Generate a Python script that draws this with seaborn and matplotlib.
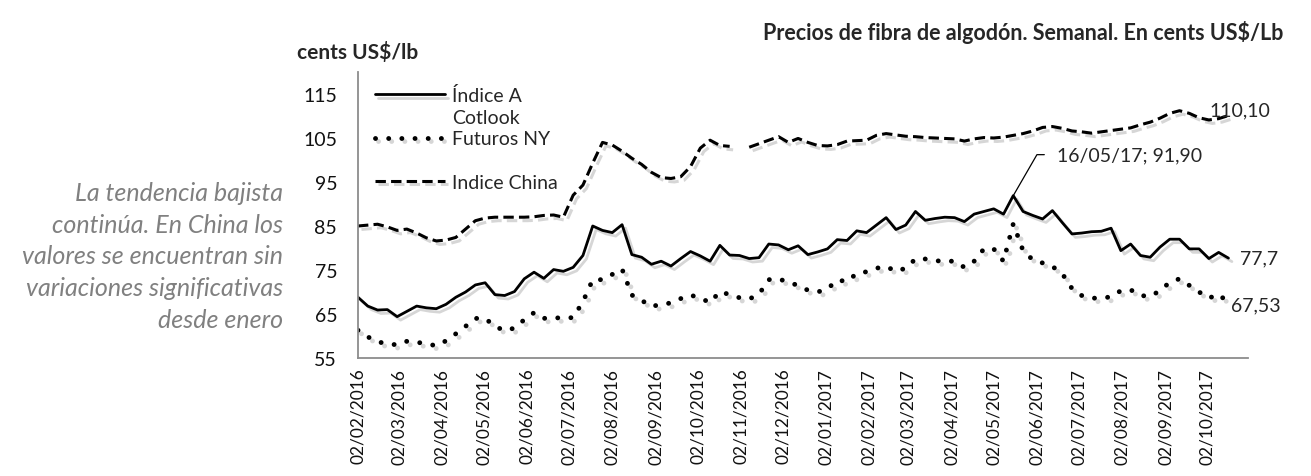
import matplotlib
matplotlib.use("Agg")
import matplotlib.pyplot as plt
import matplotlib.dates as mdates
import matplotlib.patheffects as pe
from matplotlib.lines import Line2D
import numpy as np
import pandas as pd
import seaborn as sns

# Datos semanales (martes) desde 02/02/2016
fechas = pd.date_range("2016-02-02", periods=90, freq="7D")

indice_a = [68.8, 66.8, 65.9, 66.0, 64.4, 65.6, 66.8, 66.4, 66.2, 67.2,
            68.8, 70.0, 71.6, 72.1, 69.4, 69.2, 70.1, 73.0, 74.5, 73.1,
            75.1, 74.7, 75.6, 78.3, 85.0, 84.0, 83.5, 85.3, 78.5, 77.9,
            76.3, 77.0, 75.9, 77.6, 79.2, 78.2, 77.0, 80.6, 78.4, 78.3,
            77.6, 77.8, 80.9, 80.7, 79.6, 80.5, 78.5, 79.1, 79.8, 81.9,
            81.7, 83.9, 83.5, 85.2, 86.9, 84.2, 85.2, 88.3, 86.3, 86.7,
            87.0, 86.9, 86.0, 87.7, 88.3, 88.9, 87.7, 91.9, 88.3, 87.4,
            86.6, 88.5, 85.8, 83.2, 83.4, 83.7, 83.8, 84.5, 79.4, 80.9,
            78.3, 77.9, 80.2, 82.0, 82.0, 79.8, 79.8, 77.6, 79.0, 77.7]

futuros_ny = [61.3, 59.8, 58.7, 58.2, 58.0, 58.8, 58.6, 58.2, 57.8, 58.9,
              60.5, 62.2, 64.0, 64.0, 62.2, 61.2, 61.8, 63.7, 65.3, 64.0,
              64.2, 64.0, 64.2, 67.8, 72.8, 72.8, 74.0, 75.2, 69.3, 68.1,
              66.7, 67.2, 67.5, 68.5, 69.3, 68.6, 67.6, 70.1, 69.4, 68.7,
              68.4, 69.5, 72.8, 73.0, 72.2, 71.5, 70.4, 70.0, 70.7, 72.7,
              72.4, 74.2, 74.6, 75.4, 75.8, 74.7, 75.4, 77.5, 77.5, 77.1,
              77.0, 77.0, 75.6, 77.0, 79.8, 79.8, 77.0, 85.5, 79.4, 77.3,
              76.6, 75.8, 74.2, 70.8, 69.2, 68.6, 68.6, 68.9, 70.3, 70.5,
              69.2, 69.0, 70.3, 72.2, 73.0, 71.5, 70.0, 68.6, 69.5, 67.53]

indice_china = [85.0, 85.2, 85.4, 84.8, 84.0, 84.3, 83.4, 82.3, 81.6, 81.8,
                82.4, 84.3, 86.2, 86.8, 87.0, 87.0, 87.0, 87.0, 87.1, 87.4,
                87.5, 87.0, 92.0, 94.3, 99.3, 104.0, 103.4, 102.0, 100.4, 99.0,
                97.2, 96.0, 95.8, 96.2, 98.5, 102.7, 104.5, 103.3, 103.1, np.nan,
                102.9, 103.7, 104.5, 105.3, 104.0, 104.9, 104.0, 103.3, 103.2, 103.5,
                104.3, 104.4, 104.5, 105.6, 106.0, 105.7, 105.4, 105.3, 105.1, 105.0,
                104.9, 104.8, 104.3, 104.8, 105.1, 105.0, 105.2, 105.6, 106.0, 106.6,
                107.4, 107.6, 107.2, 106.6, 106.4, 106.1, 106.4, 106.7, 107.0, 107.3,
                108.0, 108.6, 109.5, 110.6, 111.2, 110.6, 109.6, 109.1, 109.4, 110.1]

etiquetas = ["Índice A", "Cotlook", "Futuros NY", " ", "Indice China"]
y_ticks = [55, 65, 75, 85, 95, 105, 115]
tick_fechas = pd.date_range("2016-02-01", "2017-10-01", freq="MS") + pd.Timedelta(days=1)

df = pd.DataFrame({"fecha": fechas, "a": indice_a, "ny": futuros_ny, "china": indice_china})
df["tramo"] = df["china"].isna().cumsum()

sns.set_style("white")
plt.rcParams["font.family"] = ["Lato", "DejaVu Sans"]

fig = plt.figure(figsize=(13.11, 4.77), dpi=100)
ax = fig.add_axes([358 / 1311, 118 / 477, 890 / 1311, 286 / 477])

sombra = [pe.SimpleLineShadow(offset=(2.5, -2.5), shadow_color="0.55", alpha=0.35), pe.Normal()]

sns.lineplot(data=df, x="fecha", y="a", color="black", lw=2.0, ax=ax,
             legend=False, path_effects=sombra)
sns.lineplot(data=df, x="fecha", y="ny", color="black", lw=3.5, ax=ax,
             legend=False, linestyle=(0, (0.01, 2.7)), dash_capstyle="round",
             path_effects=sombra)
sns.lineplot(data=df, x="fecha", y="china", units="tramo", estimator=None,
             color="black", lw=2.2, ax=ax, legend=False,
             linestyle=(0, (3.4, 1.7)), path_effects=sombra)

ax.set_ylim(55, 120)
ax.set_yticks(y_ticks)
ax.set_xlim(pd.Timestamp("2016-02-02"), pd.Timestamp("2017-10-31"))
ax.set_xticks(tick_fechas)
ax.xaxis.set_major_formatter(mdates.DateFormatter("%d/%m/%Y"))
ax.set_xlabel("")
ax.set_ylabel("")

for s in ["top", "right"]:
    ax.spines[s].set_visible(False)
for s in ["left", "bottom"]:
    ax.spines[s].set_color("#8c8c8c")
    ax.spines[s].set_linewidth(1.3)
ax.tick_params(axis="x", direction="out", length=4, width=1.2, color="#8c8c8c",
               labelsize=12.5, labelrotation=90, pad=3, labelcolor="#111111")
ax.tick_params(axis="y", direction="out", length=4, width=1.2, color="#8c8c8c",
               labelsize=14, pad=11, labelcolor="#111111")

# leyenda
lineas = ax.get_lines()
vacio = Line2D([], [], color="none")
ax.legend([lineas[0], vacio, lineas[1], vacio, lineas[2]], etiquetas,
          loc="upper left", bbox_to_anchor=(0.019, 0.951), frameon=False,
          fontsize=14, handlelength=3.6, handletextpad=0.38, labelspacing=0.24,
          borderaxespad=0, borderpad=0)

# etiquetas de datos
ax.annotate("110,10", xy=(fechas[-1], indice_china[-1]), xytext=(-14, 4),
            textcoords="offset points", ha="left", va="center", fontsize=14)
ax.annotate("77,7", xy=(fechas[-1], indice_a[-1]), xytext=(8.5, 0),
            textcoords="offset points", ha="left", va="center", fontsize=14)
ax.annotate("67,53", xy=(fechas[-1], futuros_ny[-1]), xytext=(1.5, -1.5),
            textcoords="offset points", ha="left", va="center", fontsize=14)
pico = int(np.argmax(indice_a))
ax.annotate("16/05/17; 91,90", xy=(fechas[pico], indice_a[pico]), xytext=(31.7, 29.5),
            textcoords="offset points", ha="left", va="center", fontsize=14,
            arrowprops=dict(arrowstyle="-", color="black", lw=0.9,
                            connectionstyle="angle,angleA=0,angleB=60",
                            relpos=(0, 0.5), shrinkA=7, shrinkB=0))

fig.text(1283 / 1311, 1 - 33 / 477, "Precios de fibra de algodón. Semanal. En cents US\\$/Lb",
         ha="right", va="center", fontsize=15.5, fontweight="bold")
fig.text(297 / 1311, 1 - 52 / 477, "cents US\\$/lb", ha="left", va="center",
         fontsize=15, fontweight="bold")
fig.text(283 / 1311, 1 - 257 / 477,
         "La tendencia bajista\ncontinúa. En China los\nvalores se encuentran sin\n"
         "variaciones significativas\ndesde enero",
         ha="right", va="center", fontsize=18, style="italic", color="#808080",
         linespacing=1.45)

fig.savefig("out.png", dpi=100)
